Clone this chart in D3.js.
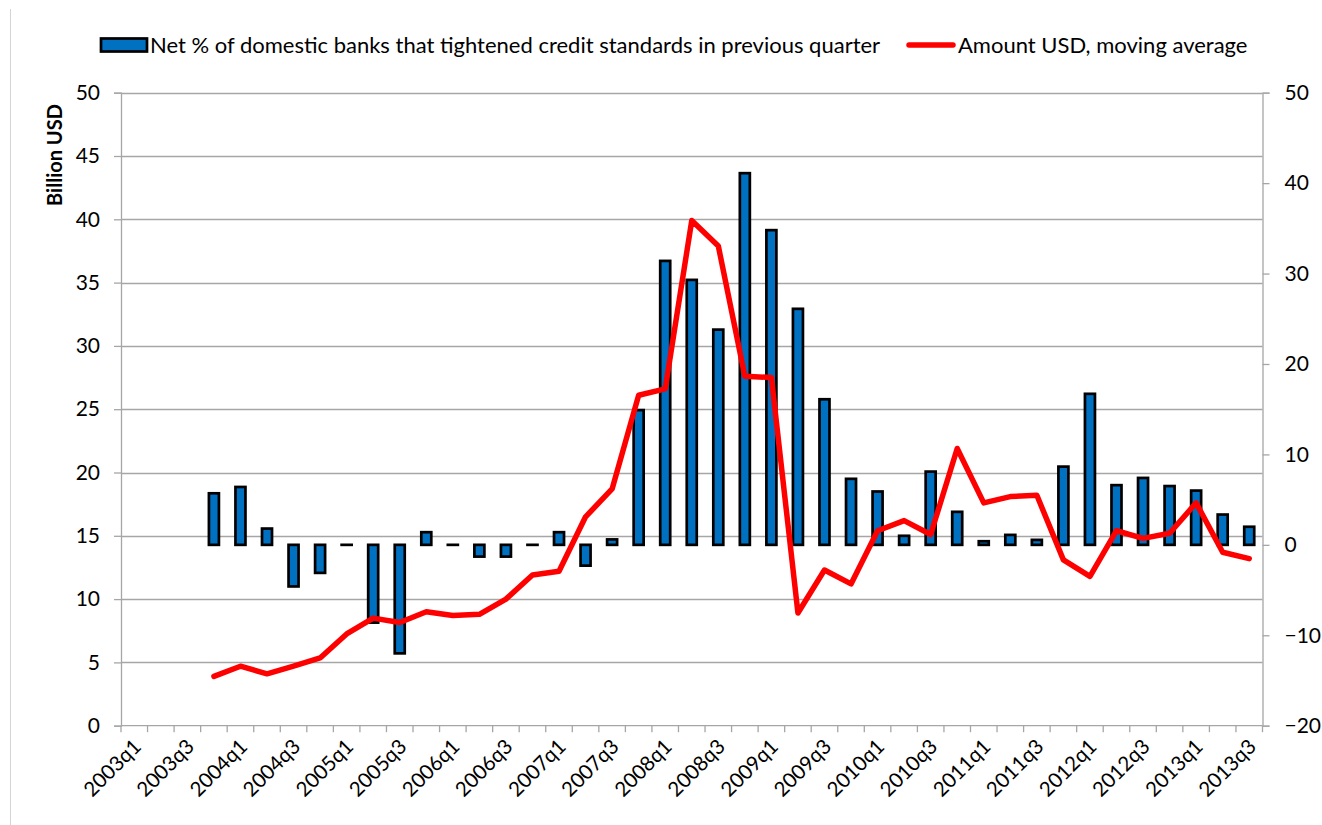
<!DOCTYPE html>
<html>
<head>
<meta charset="utf-8">
<script src="https://cdn.jsdelivr.net/npm/d3@7"></script>
<style>
  body { margin: 0; background: #fff; }
  svg { display: block; font-family: Lato, 'Open Sans', sans-serif; }
</style>
</head>
<body>
<svg id="chart"></svg>
<script>
const quarters = [
  '2003q1', '2003q2', '2003q3', '2003q4',
  '2004q1', '2004q2', '2004q3', '2004q4',
  '2005q1', '2005q2', '2005q3', '2005q4',
  '2006q1', '2006q2', '2006q3', '2006q4',
  '2007q1', '2007q2', '2007q3', '2007q4',
  '2008q1', '2008q2', '2008q3', '2008q4',
  '2009q1', '2009q2', '2009q3', '2009q4',
  '2010q1', '2010q2', '2010q3', '2010q4',
  '2011q1', '2011q2', '2011q3', '2011q4',
  '2012q1', '2012q2', '2012q3', '2012q4',
  '2013q1', '2013q2', '2013q3'
];

// net % tightening (right axis)
const netTightened = [
  null, null, null, 5.7,
  6.4, 1.8, -4.6, -3.1,
  0, -8.6, -12.0, 1.4,
  0, -1.3, -1.3, 0,
  1.4, -2.3, 0.6, 14.9,
  31.4, 29.3, 23.8, 41.1,
  34.8, 26.1, 16.1, 7.3,
  5.9, 1.0, 8.1, 3.65,
  0.4, 1.1, 0.55, 8.65,
  16.7, 6.6, 7.4, 6.5,
  6.0, 3.35, 2.0
];

// amount, billion USD, moving average (left axis)
const amountUSD = [
  null, null, null, 3.9,
  4.7, 4.1, 4.7, 5.35,
  7.25, 8.5, 8.15, 9.0,
  8.7, 8.8, 10.0, 11.9,
  12.2, 16.5, 18.7, 26.1,
  26.6, 39.9, 37.9, 27.6,
  27.5, 8.9, 12.3, 11.2,
  15.4, 16.2, 15.1, 21.9,
  17.6, 18.1, 18.2, 13.1,
  11.8, 15.4, 14.8, 15.2,
  17.6, 13.7, 13.2
];

const leftTicks = [0, 5, 10, 15, 20, 25, 30, 35, 40, 45, 50];
const rightTicks = [-20, -10, 0, 10, 20, 30, 40, 50];
const legendLabels = [
  'Net % of domestic banks that tightened credit standards in previous quarter',
  'Amount USD, moving average'
];

const width = 1322;
const height = 825;
const plot = { left: 121, right: 1262.5, top: 92.7, bottom: 725.7 };
const gridColor = '#a6a6a6';
const barBlue = '#0070C0';
const lineRed = '#FF0000';

const svg = d3.select('#chart')
    .attr('width', width)
    .attr('height', height);

const xScale = d3.scaleBand()
    .domain(quarters)
    .range([plot.left, plot.right])
    .padding(0);
const yLeft = d3.scaleLinear().domain([0, 50]).range([plot.bottom, plot.top]);
const yRight = d3.scaleLinear().domain([-20, 50]).range([plot.bottom, plot.top]);
const center = (q) => xScale(q) + xScale.bandwidth() / 2;

// faint chart-area border on the left
svg.append('line')
    .attr('x1', 10.5).attr('x2', 10.5)
    .attr('y1', 9).attr('y2', height)
    .attr('stroke', '#d4d4d4')
    .attr('stroke-width', 1);

// gridlines
svg.append('g')
    .attr('class', 'grid')
    .selectAll('line')
    .data(leftTicks.slice(1))
    .enter()
    .append('line')
    .attr('x1', plot.left)
    .attr('x2', plot.right)
    .attr('y1', (d) => Math.round(yLeft(d)) + 0.5)
    .attr('y2', (d) => Math.round(yLeft(d)) + 0.5)
    .attr('stroke', gridColor)
    .attr('stroke-width', 1.3);

// left axis
const leftAxis = svg.append('g')
    .attr('class', 'y axis')
    .attr('transform', `translate(${plot.left}, 0)`)
    .call(d3.axisLeft(yLeft).tickValues(leftTicks).tickSize(7).tickPadding(14));

// right axis
const rightAxis = svg.append('g')
    .attr('class', 'y2 axis')
    .attr('transform', `translate(${plot.right}, 0)`)
    .call(d3.axisRight(yRight).tickValues(rightTicks).tickSize(7).tickPadding(15));

// bottom axis: ticks on category boundaries, labels every other quarter
const xAxis = svg.append('g')
    .attr('class', 'x axis')
    .attr('transform', `translate(0, ${plot.bottom})`);
xAxis.append('line')
    .attr('x1', plot.left).attr('x2', plot.right)
    .attr('stroke', gridColor).attr('stroke-width', 1.3);
xAxis.selectAll('.tick')
    .data(quarters.concat(['end']))
    .enter()
    .append('line')
    .attr('class', 'tick')
    .attr('x1', (d, i) => plot.left + i * xScale.bandwidth())
    .attr('x2', (d, i) => plot.left + i * xScale.bandwidth())
    .attr('y1', 0)
    .attr('y2', 6.5)
    .attr('stroke', gridColor)
    .attr('stroke-width', 1.3);
xAxis.selectAll('.label')
    .data(quarters.filter((d, i) => i % 2 === 0))
    .enter()
    .append('text')
    .attr('class', 'label')
    .attr('transform', (d) => `translate(${center(d) + 3}, 17) rotate(-45)`)
    .attr('dy', '0.35em')
    .style('text-anchor', 'end')
    .style('font-size', '20.5px')
    .style('fill', '#000')
    .text((d) => d);

[leftAxis, rightAxis].forEach((ax) => {
    ax.select('.domain').attr('stroke', gridColor).attr('stroke-width', 1.3);
    ax.selectAll('.tick line').attr('stroke', gridColor).attr('stroke-width', 1.3);
    ax.selectAll('.tick text').style('font-size', '21px').style('fill', '#000')
        .attr('font-family', 'Lato, sans-serif');
});

svg.append('text')
    .attr('transform', `translate(62, 155) rotate(-90)`)
    .style('text-anchor', 'middle')
    .style('font-size', '20px')
    .style('font-weight', 'bold')
    .text('Billion USD');

// bars (zero values still show as a flat outlined dash)
const barWidth = 10;
svg.append('g')
    .attr('class', 'bars')
    .selectAll('rect')
    .data(quarters.map((q, i) => ({ q: q, v: netTightened[i] })).filter((d) => d.v !== null))
    .enter()
    .append('rect')
    .attr('x', (d) => center(d.q) - barWidth / 2)
    .attr('y', (d) => yRight(Math.max(0, d.v)))
    .attr('width', barWidth)
    .attr('height', (d) => Math.max(0.01, Math.abs(yRight(d.v) - yRight(0))))
    .style('fill', barBlue)
    .style('stroke', 'black')
    .style('stroke-width', 2.7);

// line
const lineData = quarters.map((q, i) => ({ q: q, v: amountUSD[i] })).filter((d) => d.v !== null);
svg.append('path')
    .datum(lineData)
    .attr('class', 'amount-line')
    .attr('d', d3.line().x((d) => center(d.q)).y((d) => yLeft(d.v)))
    .attr('fill', 'none')
    .attr('stroke', lineRed)
    .attr('stroke-width', 5.5)
    .attr('stroke-linejoin', 'round')
    .attr('stroke-linecap', 'round');

// legend
const legend = svg.append('g').attr('class', 'legend');
legend.append('rect')
    .attr('x', 101).attr('y', 38.5)
    .attr('width', 46).attr('height', 13)
    .style('fill', barBlue)
    .style('stroke', 'black')
    .style('stroke-width', 2.7);
legend.append('text')
    .attr('x', 150).attr('y', 45)
    .attr('dy', '0.35em')
    .style('font-size', '22px')
    .text(legendLabels[0]);
legend.append('line')
    .attr('x1', 909).attr('x2', 953)
    .attr('y1', 45).attr('y2', 45)
    .attr('stroke', lineRed)
    .attr('stroke-width', 5.5)
    .attr('stroke-linecap', 'round');
legend.append('text')
    .attr('x', 958).attr('y', 45)
    .attr('dy', '0.35em')
    .style('font-size', '22px')
    .text(legendLabels[1]);
</script>
</body>
</html>
